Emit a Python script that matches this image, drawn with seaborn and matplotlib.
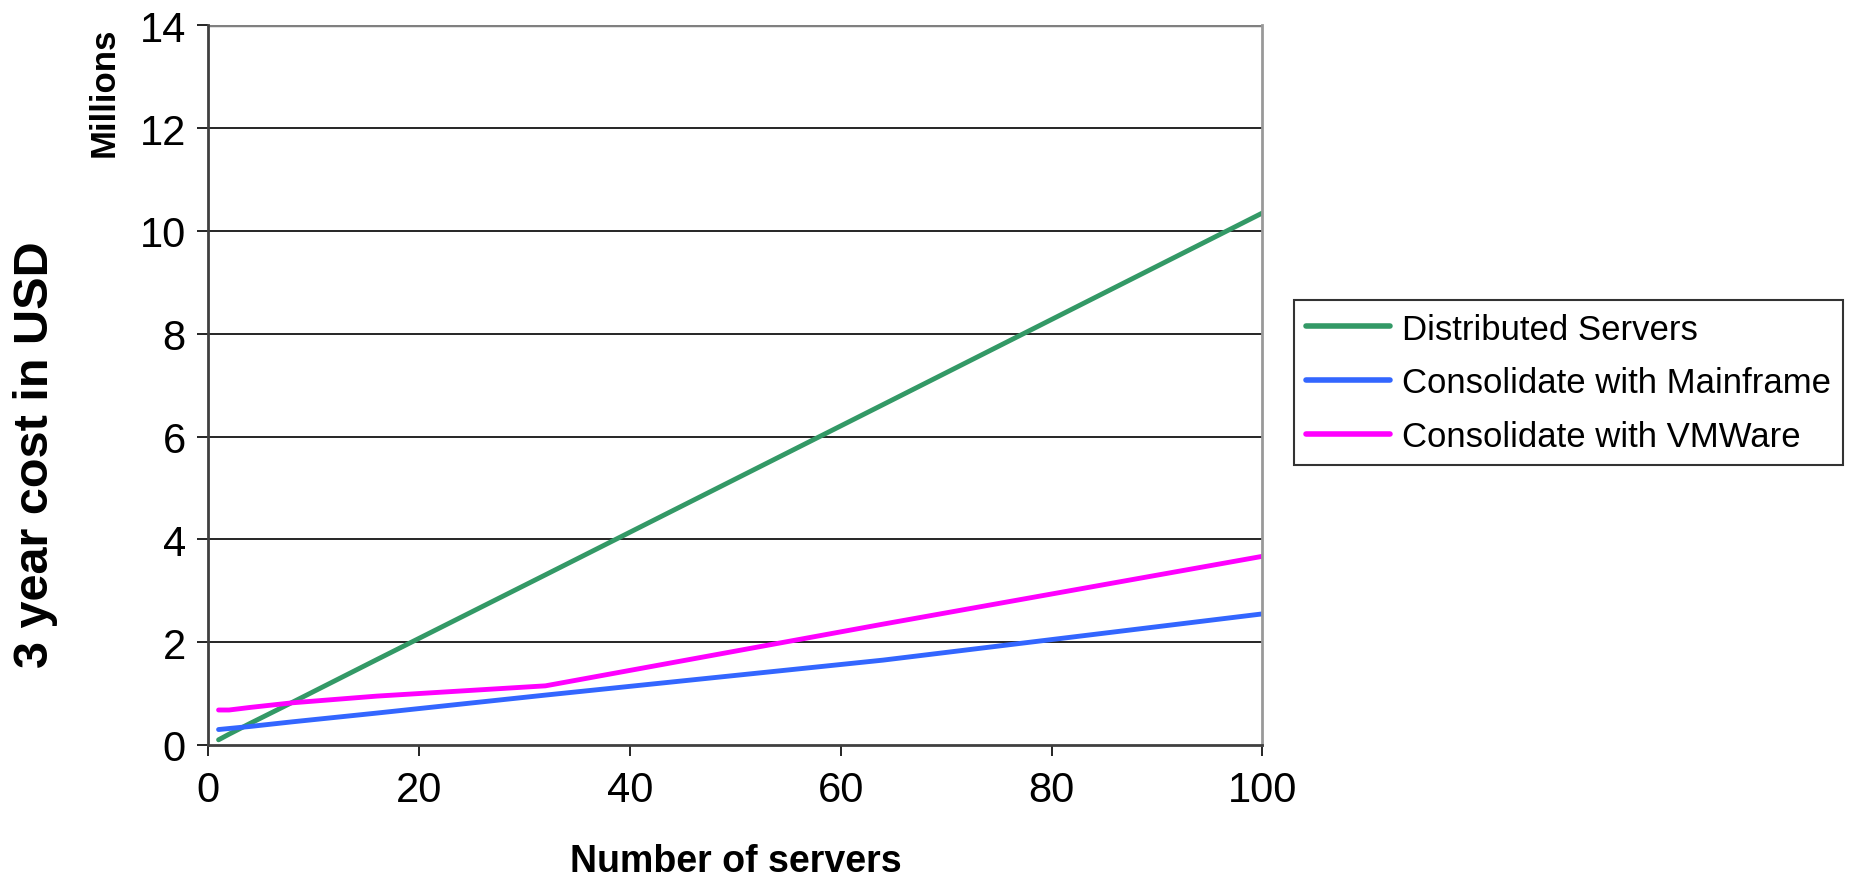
import seaborn as sns
import matplotlib.pyplot as plt
import pandas as pd

servers = [1, 2, 4, 8, 16, 32, 64, 100]
distributed = [0.10, 0.21, 0.42, 0.83, 1.66, 3.31, 6.62, 10.35]
mainframe = [0.30, 0.32, 0.36, 0.45, 0.62, 0.97, 1.65, 2.55]
vmware = [0.68, 0.68, 0.73, 0.82, 0.95, 1.15, 2.35, 3.67]
series_names = ['Distributed Servers', 'Consolidate with Mainframe', 'Consolidate with VMWare']
colors = ['#339966', '#3366FF', '#FF00FF']

df = pd.DataFrame({'servers': servers * 3,
                   'cost': distributed + mainframe + vmware,
                   'series': [n for n in series_names for _ in servers]})

sns.set_style('white')
plt.rcParams['font.family'] = ['Liberation Sans', 'DejaVu Sans']
plt.rcParams['text.color'] = 'black'
plt.rcParams['xtick.color'] = 'black'
plt.rcParams['ytick.color'] = 'black'

fig = plt.figure(figsize=(18.64, 8.78), dpi=100)
ax = fig.add_axes([0.1116, 0.1504, 0.5657, 0.8196])

sns.lineplot(data=df, x='servers', y='cost', hue='series', palette=colors,
             linewidth=3.5, ax=ax, legend=True)

ax.set_xlim(0, 100)
ax.set_ylim(0, 14)
ax.set_xticks(range(0, 101, 20))
ax.set_yticks(range(0, 15, 2))
ax.tick_params(axis='both', labelsize=30, length=8, width=1.2, colors='black',
               direction='out', left=True, bottom=True)
ax.tick_params(axis='x', pad=10)
ax.tick_params(axis='y', pad=8)
for y in range(2, 14, 2):
    ax.axhline(y, color='black', linewidth=1.2, zorder=0)
ax.axhline(14, color='#808080', linewidth=2.5, zorder=0)
ax.spines['left'].set_color('#404040')
ax.spines['left'].set_linewidth(2)
ax.spines['bottom'].set_color('#404040')
ax.spines['bottom'].set_linewidth(2)
ax.spines['right'].set_color('#999999')
ax.spines['right'].set_linewidth(2)
ax.spines['top'].set_visible(False)

ax.set_xlabel('')
ax.set_ylabel('')
fig.text(0.395, 0.018, 'Number of servers', fontsize=27, fontweight='bold',
         ha='center', va='center')
fig.text(0.019, 0.482, '3 year cost in USD', rotation=90, fontsize=35,
         fontweight='bold', ha='center', va='center')
fig.text(0.056, 0.968, 'Millions', rotation=90, fontsize=25,
         fontweight='bold', ha='center', va='top')

leg = ax.legend(loc='center left', bbox_to_anchor=(1.030, 0.503), fontsize=25,
                frameon=True, fancybox=False, edgecolor='black',
                handlelength=2.4, borderpad=0.35, labelspacing=0.6,
                handletextpad=0.35, borderaxespad=0)
leg.get_frame().set_linewidth(1.5)
for line in leg.get_lines():
    line.set_linewidth(4)

fig.savefig('out.png', dpi=100)
